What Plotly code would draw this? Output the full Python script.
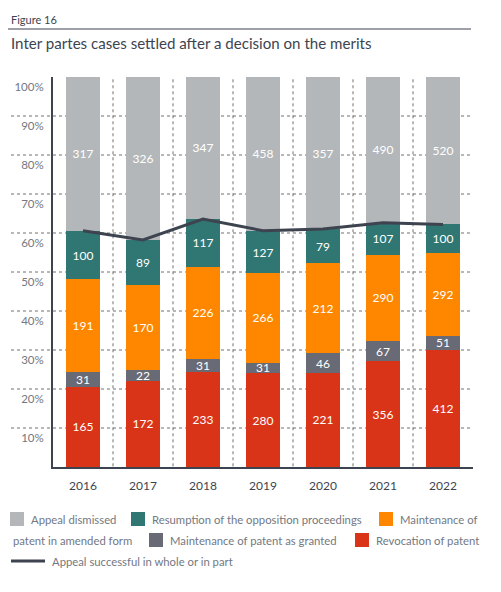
import plotly.graph_objects as go

years = ['2016', '2017', '2018', '2019', '2020', '2021', '2022']

revocation = [165, 172, 233, 280, 221, 356, 412]
granted = [31, 22, 31, 31, 46, 67, 51]
amended = [191, 170, 226, 266, 212, 290, 292]
resumption = [100, 89, 117, 127, 79, 107, 100]
dismissed = [317, 326, 347, 458, 357, 490, 520]

# share of appeals successful in whole or in part (%)
successful = [60.6, 58.2, 63.6, 60.6, 61.0, 62.6, 62.2]

y_ticks = [10, 20, 30, 40, 50, 60, 70, 80, 90, 100]

FONT = 'Lato'
DARK = '#3d4450'
GREY_TXT = '#737882'

series = [
    ('Revocation of patent', revocation, '#d93418'),
    ('Maintenance of patent as granted', granted, '#686b76'),
    ('Maintenance of patent in amended form', amended, '#ff8700'),
    ('Resumption of the opposition proceedings', resumption, '#307673'),
    ('Appeal dismissed', dismissed, '#b3b7ba'),
]

fig = go.Figure()

for name, vals, color in series:
    fig.add_trace(go.Bar(
        x=years, y=vals, name=name,
        marker=dict(color=color, line=dict(width=0)),
        text=vals, texttemplate='%{text}',
        textposition='inside', insidetextanchor='middle', textangle=0,
        constraintext='none',
        textfont=dict(family=FONT, size=12, color='white'),
        showlegend=False,
    ))

fig.add_trace(go.Scatter(
    x=years, y=successful, mode='lines',
    name='Appeal successful in whole or in part',
    line=dict(color=DARK, width=3),
    showlegend=False,
))

# page body has an 8px margin, so the figure is drawn 8px in from the corner
PAD = 8
W, H = 501 - 2 * PAD, 592 - 2 * PAD
L, T = 53 - PAD, 77 - PAD
pw, ph = 420, 390
R, B = W - L - pw, H - T - ph


def px_x(x):
    # page pixel -> paper coordinate
    return (x - PAD - L) / pw


def px_y(y):
    return (PAD + T + ph - y) / ph


shapes = []
# horizontal dotted gridlines, running into the label area
for v in y_ticks[:-1]:
    shapes.append(dict(type='line', xref='paper', yref='y', x0=px_x(5), x1=px_x(472),
                       y0=v, y1=v, layer='below',
                       line=dict(color='#707070', width=1, dash='dot')))
# vertical dotted separators between years
for i in range(len(years) - 1):
    shapes.append(dict(type='line', xref='x', yref='y', x0=i + 0.5, x1=i + 0.5,
                       y0=-2.9, y1=100, layer='below',
                       line=dict(color='#707070', width=1, dash='dot')))

# rule under "Figure 16"
shapes.append(dict(type='line', xref='paper', yref='paper', x0=px_x(5), x1=px_x(471),
                   y0=px_y(29), y1=px_y(29), line=dict(color=DARK, width=1)))

annotations = [
    dict(text='Figure 16', xref='paper', yref='paper', x=px_x(9), y=px_y(19),
         xanchor='left', yanchor='middle', showarrow=False,
         font=dict(family=FONT, size=11, color=DARK)),
    dict(text='Inter partes cases settled after a decision on the merits',
         xref='paper', yref='paper', x=px_x(9), y=px_y(43),
         xanchor='left', yanchor='middle', showarrow=False,
         font=dict(family=FONT, size=15.1, color=DARK)),
]

# manual legend (item text wraps mid-entry as in the original)
leg_rows = [
    [('box', '#b3b7ba', 10, 'Appeal dismissed'),
     ('box', '#307673', 131, 'Resumption of the opposition proceedings'),
     ('box', '#ff8700', 379, 'Maintenance of')],
    [(None, None, 11, 'patent in amended form'),
     ('box', '#686b76', 149, 'Maintenance of patent as granted'),
     ('box', '#d93418', 355, 'Revocation of patent')],
    [('line', DARK, 11, 'Appeal successful in whole or in part')],
]
row_y = [519, 540, 561]

for ry, row in zip(row_y, leg_rows):
    for kind, color, x, label in row:
        tx = x
        if kind == 'box':
            shapes.append(dict(type='rect', xref='paper', yref='paper',
                               x0=px_x(x), x1=px_x(x + 14),
                               y0=px_y(ry + 7), y1=px_y(ry - 7),
                               fillcolor=color, line=dict(width=0)))
            tx = x + 19
        elif kind == 'line':
            shapes.append(dict(type='line', xref='paper', yref='paper',
                               x0=px_x(x), x1=px_x(x + 34),
                               y0=px_y(ry), y1=px_y(ry),
                               line=dict(color=color, width=3)))
            tx = x + 39
        annotations.append(dict(text=label, xref='paper', yref='paper',
                                x=px_x(tx), y=px_y(ry), xanchor='left',
                                yanchor='middle', showarrow=False,
                                font=dict(family=FONT, size=11.3, color=GREY_TXT)))

fig.update_layout(
    barmode='stack', barnorm='percent', bargap=0.42,
    width=W, height=H,
    margin=dict(l=L, r=R, t=T, b=B),
    paper_bgcolor='white', plot_bgcolor='white',
    font=dict(family=FONT),
    uniformtext=dict(minsize=12, mode='show'),
    xaxis=dict(showgrid=False, showline=True, linecolor=DARK, linewidth=2,
               ticks='', ticklabelstandoff=7, automargin=False,
               tickfont=dict(family=FONT, size=12, color=DARK)),
    yaxis=dict(range=[0, 100], showgrid=False, zeroline=False,
               showline=True, linecolor=DARK, linewidth=2, automargin=False,
               tickvals=y_ticks, ticktext=[f'{v}%' for v in y_ticks],
               ticks='', ticklabelstandoff=5, ticklabelshift=10,
               tickfont=dict(family=FONT, size=11.5, color=GREY_TXT)),
    shapes=shapes,
    annotations=annotations,
)

fig.write_html('out.html')
